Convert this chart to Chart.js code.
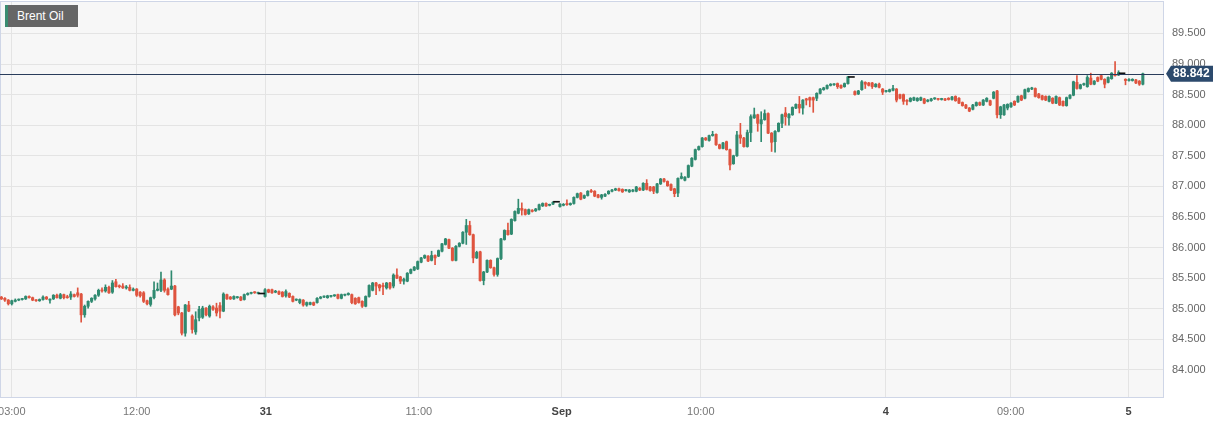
<!DOCTYPE html>
<html>
<head>
<meta charset="utf-8">
<script src="https://cdn.jsdelivr.net/npm/chart.js@4.4.0/dist/chart.umd.min.js"></script>
<style>
html,body{margin:0;padding:0;background:#fff;}
#wrap{position:relative;width:1229px;height:424px;overflow:hidden;}
#legend{position:absolute;left:5px;top:5px;width:73px;height:22px;box-sizing:border-box;background:#666;border-left:3px solid #3a8c70;color:#fff;font:12px "Liberation Sans",Arial,sans-serif;line-height:22px;padding-left:9px;white-space:nowrap;}
</style>
</head>
<body>
<div id="wrap">
<canvas id="c" width="1229" height="424"></canvas>
<div id="legend">Brent Oil</div>
</div>
<script>
// ---- data (15-minute candles) ----
const opens = [
85.19,85.17,85.14,85.08,85.12,85.14,85.15,85.16,85.20,85.18,
85.14,85.13,85.15,85.19,85.14,85.16,85.22,85.17,85.23,85.19,
85.19,85.23,85.26,85.24,84.90,85.04,85.12,85.16,85.22,85.30,
85.29,85.35,85.27,85.44,85.37,85.37,85.34,85.35,85.30,85.32,
85.27,85.26,85.13,85.07,85.18,85.30,85.30,85.47,85.32,85.32,
85.37,85.03,84.93,84.60,85.06,84.88,84.62,84.85,84.86,85.01,
84.88,85.03,85.01,85.05,84.96,85.23,85.19,85.16,85.18,85.19,
85.15,85.23,85.25,85.27,85.25,85.24,85.20,85.31,85.31,85.27,
85.28,85.27,85.21,85.25,85.20,85.14,85.10,85.14,85.06,85.07,
85.10,85.10,85.17,85.19,85.18,85.20,85.21,85.23,85.17,85.22,
85.23,85.23,85.17,85.18,85.12,85.04,85.20,85.30,85.42,85.39,
85.38,85.34,85.42,85.37,85.55,85.52,85.45,85.45,85.58,85.63,
85.65,85.76,85.83,85.86,85.79,85.87,85.86,85.94,86.05,86.13,
85.99,85.79,86.02,86.07,86.25,86.36,86.21,85.83,85.93,85.46,
85.60,85.79,85.67,85.56,85.82,86.13,86.28,86.22,86.44,86.56,
86.64,86.62,86.55,86.61,86.60,86.62,86.68,86.72,86.69,86.71,
86.74,86.67,86.69,86.72,86.70,86.72,86.82,86.89,86.81,86.85,
86.93,86.92,86.86,86.82,86.84,86.88,86.92,86.94,86.96,86.95,
86.93,86.91,86.92,86.92,86.97,86.94,87.05,86.99,86.99,86.90,
87.04,87.12,87.08,87.03,86.96,86.89,87.13,87.10,87.15,87.33,
87.44,87.60,87.65,87.79,87.75,87.83,87.85,87.68,87.62,87.73,
87.60,87.37,87.50,87.84,87.79,87.65,87.88,88.12,88.17,88.02,
88.09,88.19,87.87,87.73,87.90,88.03,88.20,88.12,88.17,88.28,
88.34,88.28,88.43,88.45,88.45,88.44,88.52,88.58,88.60,88.65,
88.66,88.68,88.65,88.63,88.68,88.78,88.55,88.51,88.58,88.70,
88.69,88.69,88.63,88.67,88.59,88.55,88.55,88.57,88.59,88.50,
88.50,88.40,88.39,88.41,88.40,88.41,88.43,88.39,88.40,88.43,
88.43,88.42,88.43,88.44,88.42,88.47,88.44,88.37,88.33,88.28,
88.26,88.32,88.37,88.33,88.39,88.40,88.44,88.56,88.17,88.17,
88.28,88.30,88.39,88.38,88.48,88.44,88.55,88.59,88.60,88.51,
88.48,88.47,88.39,88.44,88.36,88.45,88.39,88.32,88.44,88.49,
88.70,88.60,88.66,88.63,88.77,88.67,88.78,88.81,88.75,88.70,
88.76,88.83,88.82,88.84,88.75,88.73,88.73,88.74,88.72,88.67
];
const highs = [
85.20,85.18,85.15,85.14,85.16,85.16,85.17,85.21,85.21,85.19,
85.15,85.16,85.21,85.20,85.16,85.23,85.24,85.25,85.24,85.22,
85.28,85.24,85.34,85.25,85.06,85.13,85.18,85.23,85.32,85.34,
85.39,85.37,85.46,85.48,85.39,85.41,85.38,85.39,85.34,85.33,
85.28,85.28,85.14,85.19,85.44,85.42,85.60,85.49,85.34,85.62,
85.38,85.04,84.94,85.07,85.12,84.90,84.95,85.04,85.04,85.02,
85.06,85.05,85.09,85.10,85.26,85.24,85.20,85.21,85.20,85.20,
85.24,85.26,85.27,85.28,85.27,85.24,85.33,85.32,85.32,85.30,
85.29,85.28,85.31,85.26,85.21,85.16,85.16,85.15,85.11,85.11,
85.11,85.18,85.20,85.21,85.22,85.22,85.23,85.24,85.24,85.24,
85.26,85.24,85.18,85.19,85.13,85.21,85.39,85.43,85.43,85.40,
85.42,85.43,85.43,85.57,85.65,85.53,85.50,85.59,85.65,85.69,
85.78,85.84,85.88,85.87,85.94,85.88,85.96,86.07,86.15,86.14,
86.00,86.03,86.08,86.26,86.46,86.43,86.22,85.94,85.94,85.61,
85.80,85.80,85.68,85.83,86.15,86.29,86.40,86.47,86.60,86.79,
86.73,86.63,86.63,86.62,86.64,86.71,86.73,86.73,86.71,86.75,
86.74,86.72,86.72,86.78,86.73,86.83,86.89,86.90,86.86,86.93,
86.95,86.93,86.87,86.87,86.88,86.93,86.95,86.97,86.97,86.96,
86.95,86.95,86.95,87.00,86.98,87.06,87.11,87.00,87.00,87.05,
87.13,87.13,87.09,87.04,86.97,87.14,87.22,87.16,87.35,87.47,
87.61,87.66,87.80,87.80,87.84,87.90,87.86,87.69,87.72,87.74,
87.61,87.51,87.90,88.03,87.80,87.92,88.17,88.28,88.18,88.22,
88.25,88.20,87.88,87.91,88.04,88.18,88.29,88.19,88.30,88.35,
88.47,88.42,88.44,88.46,88.46,88.53,88.60,88.62,88.66,88.68,
88.68,88.69,88.66,88.69,88.80,88.78,88.56,88.57,88.73,88.71,
88.70,88.70,88.68,88.69,88.60,88.57,88.59,88.65,88.60,88.51,
88.51,88.42,88.45,88.46,88.45,88.46,88.44,88.42,88.44,88.45,
88.44,88.44,88.44,88.45,88.47,88.48,88.45,88.38,88.34,88.29,
88.34,88.38,88.38,88.42,88.45,88.41,88.55,88.57,88.31,88.34,
88.35,88.37,88.40,88.48,88.49,88.59,88.61,88.62,88.61,88.52,
88.49,88.48,88.48,88.45,88.48,88.46,88.40,88.46,88.50,88.72,
88.81,88.67,88.69,88.81,88.85,88.73,88.79,88.82,88.76,88.79,
88.86,89.04,88.89,88.84,88.76,88.76,88.76,88.75,88.73,88.85
];
const lows = [
85.15,85.12,85.06,85.06,85.11,85.13,85.14,85.15,85.17,85.13,
85.12,85.12,85.14,85.15,85.09,85.15,85.17,85.16,85.16,85.17,
85.15,85.19,85.19,84.78,84.86,85.01,85.10,85.14,85.20,85.27,
85.27,85.25,85.25,85.35,85.34,85.33,85.32,85.29,85.29,85.20,
85.19,85.10,85.06,85.04,85.16,85.29,85.28,85.27,85.22,85.31,
84.88,84.90,84.57,84.55,84.95,84.60,84.58,84.80,84.84,84.88,
84.86,84.97,84.88,84.85,84.95,85.15,85.15,85.15,85.17,85.13,
85.14,85.22,85.24,85.25,85.24,85.24,85.19,85.26,85.25,85.26,
85.23,85.19,85.19,85.18,85.11,85.13,85.08,85.04,85.04,85.06,
85.05,85.09,85.16,85.18,85.17,85.19,85.20,85.16,85.16,85.21,
85.22,85.08,85.07,85.09,85.02,85.03,85.19,85.29,85.23,85.29,
85.23,85.32,85.32,85.34,85.49,85.41,85.40,85.44,85.57,85.62,
85.64,85.75,85.82,85.77,85.78,85.72,85.85,85.93,86.04,85.98,
85.78,85.78,86.01,86.06,86.05,86.20,85.75,85.82,85.45,85.39,
85.59,85.66,85.53,85.53,85.80,86.12,86.20,86.21,86.43,86.55,
86.53,86.53,86.54,86.58,86.59,86.61,86.67,86.67,86.68,86.70,
86.74,86.66,86.68,86.69,86.69,86.71,86.81,86.78,86.80,86.84,
86.90,86.83,86.81,86.79,86.83,86.87,86.91,86.93,86.92,86.90,
86.92,86.90,86.91,86.91,86.93,86.93,86.94,86.92,86.88,86.89,
87.03,87.07,87.00,86.93,86.83,86.83,87.12,87.09,87.14,87.32,
87.43,87.59,87.64,87.75,87.74,87.82,87.67,87.61,87.61,87.59,
87.27,87.36,87.49,87.70,87.64,87.64,87.73,88.11,87.90,87.73,
88.08,87.86,87.57,87.56,87.89,87.96,88.00,88.00,88.16,88.27,
88.20,88.18,88.33,88.30,88.21,88.40,88.51,88.57,88.59,88.64,
88.65,88.60,88.60,88.62,88.67,88.78,88.49,88.50,88.57,88.60,
88.64,88.60,88.62,88.61,88.50,88.54,88.54,88.56,88.38,88.43,
88.34,88.33,88.38,88.40,88.39,88.40,88.35,88.38,88.39,88.42,
88.41,88.41,88.40,88.41,88.41,88.39,88.35,88.31,88.27,88.22,
88.25,88.31,88.32,88.32,88.38,88.32,88.43,88.12,88.11,88.16,
88.25,88.29,88.32,88.37,88.40,88.43,88.54,88.58,88.46,88.44,
88.41,88.40,88.38,88.35,88.35,88.32,88.31,88.31,88.43,88.48,
88.59,88.59,88.65,88.62,88.66,88.66,88.71,88.74,88.61,88.69,
88.75,88.80,88.81,88.84,88.66,88.72,88.72,88.68,88.65,88.66
];
const closes = [
85.16,85.14,85.08,85.13,85.14,85.15,85.16,85.20,85.18,85.14,
85.13,85.15,85.19,85.16,85.15,85.22,85.18,85.23,85.18,85.18,
85.24,85.20,85.22,84.90,85.04,85.12,85.17,85.22,85.30,85.29,
85.35,85.26,85.42,85.36,85.36,85.34,85.35,85.30,85.32,85.22,
85.21,85.12,85.08,85.18,85.30,85.32,85.47,85.30,85.23,85.37,
84.90,84.93,84.60,85.06,84.96,84.66,84.82,84.99,85.01,84.90,
85.04,84.99,84.93,84.96,85.24,85.16,85.16,85.20,85.19,85.14,
85.23,85.25,85.26,85.26,85.26,85.24,85.31,85.27,85.26,85.28,
85.24,85.20,85.28,85.19,85.12,85.15,85.15,85.06,85.10,85.10,
85.06,85.17,85.19,85.20,85.21,85.21,85.22,85.17,85.23,85.23,
85.25,85.10,85.08,85.10,85.04,85.20,85.38,85.42,85.37,85.34,
85.36,85.42,85.34,85.55,85.50,85.45,85.48,85.58,85.64,85.68,
85.77,85.83,85.87,85.78,85.87,85.83,85.95,86.06,86.14,85.99,
85.79,86.02,86.07,86.25,86.36,86.21,85.83,85.92,85.46,85.60,
85.79,85.67,85.56,85.82,86.14,86.28,86.21,86.46,86.59,86.64,
86.61,86.54,86.62,86.59,86.63,86.70,86.72,86.68,86.70,86.74,
86.74,86.71,86.70,86.70,86.72,86.82,86.88,86.79,86.85,86.92,
86.91,86.84,86.82,86.86,86.87,86.92,86.94,86.96,86.93,86.91,
86.94,86.94,86.94,86.99,86.94,87.05,86.95,86.93,86.92,87.04,
87.12,87.08,87.01,86.94,86.88,87.13,87.16,87.15,87.34,87.46,
87.60,87.65,87.79,87.76,87.83,87.85,87.68,87.62,87.71,87.60,
87.35,87.50,87.84,87.79,87.65,87.88,88.14,88.17,88.03,88.09,
88.19,87.87,87.72,87.90,88.03,88.17,88.14,88.18,88.29,88.34,
88.28,88.41,88.41,88.41,88.41,88.52,88.59,88.61,88.65,88.67,
88.67,88.63,88.61,88.68,88.79,88.78,88.50,88.56,88.71,88.67,
88.65,88.63,88.67,88.62,88.54,88.56,88.58,88.60,88.41,88.44,
88.39,88.39,88.44,88.45,88.44,88.45,88.36,88.41,88.43,88.44,
88.42,88.43,88.41,88.42,88.46,88.40,88.36,88.32,88.28,88.23,
88.33,88.37,88.33,88.41,88.44,88.33,88.54,88.17,88.30,88.33,
88.34,88.36,88.33,88.47,88.41,88.58,88.60,88.61,88.47,88.45,
88.42,88.41,88.47,88.36,88.47,88.33,88.32,88.45,88.49,88.71,
88.60,88.66,88.68,88.78,88.67,88.72,88.72,88.75,88.67,88.78,
88.85,88.81,88.86,88.84,88.73,88.74,88.75,88.69,88.67,88.842
];
// x-axis tick labels and the candle index each one marks
const xTickLabels = ['03:00','12:00','31','11:00','Sep','10:00','4','09:00','5'];
const xTickIndex  = [3, 39, 76.2, 120.3, 161.5, 201.6, 254.9, 290.9, 324.9];
const xTickBold   = [false,false,true,false,true,false,true,false,true];
// y-axis tick values
const yTickValues = [84.0,84.5,85.0,85.5,86.0,86.5,87.0,87.5,88.0,88.5,89.0,89.5];
const lastPrice = 88.842;

// ---- build datasets ----
const GREEN = '#2f8a70', RED = '#df543f', DOJI = '#111111';
const bodyData = [], bodyColors = [], wickData = [], wickColors = [], dojiData = [];
for (let i = 0; i < opens.length; i++) {
  const o = opens[i], c = closes[i];
  if (o === c) {
    dojiData.push({x: i, y: [c, c]});
    if (highs[i] !== lows[i]) { wickData.push({x: i, y: [lows[i], highs[i]]}); wickColors.push(DOJI); }
    continue;
  }
  const col = c > o ? GREEN : RED;
  bodyData.push({x: i, y: [o, c]}); bodyColors.push(col);
  wickData.push({x: i, y: [lows[i], highs[i]]}); wickColors.push(col);
}

const FONT = '"Liberation Sans", Arial, Helvetica, sans-serif';

const framePlugin = {
  id: 'frame',
  beforeDraw(chart) {
    const {ctx, chartArea: a} = chart;
    ctx.save();
    ctx.fillStyle = '#ffffff';
    ctx.fillRect(0, 0, chart.width, chart.height);
    ctx.fillStyle = '#f7f7f7';
    ctx.fillRect(a.left, a.top, a.right - a.left, a.bottom - a.top);
    ctx.restore();
  },
  beforeDatasetsDraw(chart) {
    const {ctx, chartArea: a} = chart;
    ctx.save();
    ctx.strokeStyle = '#cfd6e7';
    ctx.lineWidth = 1;
    ctx.strokeRect(a.left + 0.5, a.top + 0.5, a.right - a.left - 1, a.bottom - a.top - 1);
    ctx.restore();
  },
  afterDatasetsDraw(chart) {
    const {ctx, chartArea: a, scales} = chart;
    const y = Math.round(scales.y.getPixelForValue(lastPrice)) + 0.5;
    ctx.save();
    ctx.strokeStyle = '#2a3d5c';
    ctx.lineWidth = 1;
    ctx.beginPath();
    ctx.moveTo(a.left, y);
    ctx.lineTo(a.right, y);
    ctx.stroke();
    ctx.restore();
  },
  afterDraw(chart) {
    const {ctx, chartArea: a, scales} = chart;
    const y = scales.y.getPixelForValue(lastPrice);
    const x0 = a.right + 2;
    ctx.save();
    ctx.fillStyle = '#2c4a6d';
    ctx.beginPath();
    ctx.moveTo(x0, y);
    ctx.lineTo(x0 + 5, y - 8);
    ctx.lineTo(x0 + 47, y - 8);
    ctx.lineTo(x0 + 47, y + 8);
    ctx.lineTo(x0 + 5, y + 8);
    ctx.closePath();
    ctx.fill();
    ctx.fillStyle = '#ffffff';
    ctx.font = 'bold 12px ' + FONT;
    ctx.textBaseline = 'middle';
    ctx.textAlign = 'left';
    ctx.fillText(lastPrice.toFixed(3), x0 + 7, y + 0.5);
    ctx.restore();
  }
};

new Chart(document.getElementById('c'), {
  type: 'bar',
  data: {
    datasets: [
      {data: dojiData, backgroundColor: DOJI, barThickness: 6, minBarLength: 1, grouped: false},
      {data: bodyData, backgroundColor: bodyColors, barThickness: 2.4, minBarLength: 1, grouped: false},
      {data: wickData, backgroundColor: wickColors, barThickness: 1, minBarLength: 1, grouped: false}
    ]
  },
  options: {
    responsive: false,
    animation: false,
    devicePixelRatio: 1,
    layout: {padding: {top: 1, left: 0, right: 0, bottom: 0}},
    plugins: {legend: {display: false}, tooltip: {enabled: false}},
    scales: {
      x: {
        type: 'linear',
        min: -0.4,
        max: 335.1,
        offset: false,
        grid: {color: '#e4e4e4', drawTicks: false, offset: false},
        border: {display: false},
        ticks: {
          autoSkip: false,
          maxRotation: 0,
          padding: 7,
          color: (ctx) => xTickBold[ctx.index] ? '#444' : '#777',
          font: (ctx) => ({family: FONT, size: 11, weight: xTickBold[ctx.index] ? 'bold' : 'normal'}),
          callback: (v, i) => xTickLabels[i]
        },
        afterBuildTicks: (s) => { s.ticks = xTickIndex.map(v => ({value: v})); },
        afterFit: (s) => { s.height = 26; s.paddingLeft = 0; s.paddingRight = 0; }
      },
      y: {
        position: 'right',
        min: 83.54,
        max: 90.03,
        grid: {color: '#e4e4e4', drawTicks: false},
        border: {display: false},
        ticks: {
          padding: 8,
          color: '#666',
          font: {family: FONT, size: 11},
          callback: (v) => Number(v).toFixed(3)
        },
        afterBuildTicks: (s) => { s.ticks = yTickValues.map(v => ({value: v})); },
        afterFit: (s) => { s.width = 65; s.paddingTop = 0; s.paddingBottom = 0; }
      }
    }
  },
  plugins: [framePlugin]
});
</script>
</body>
</html>
